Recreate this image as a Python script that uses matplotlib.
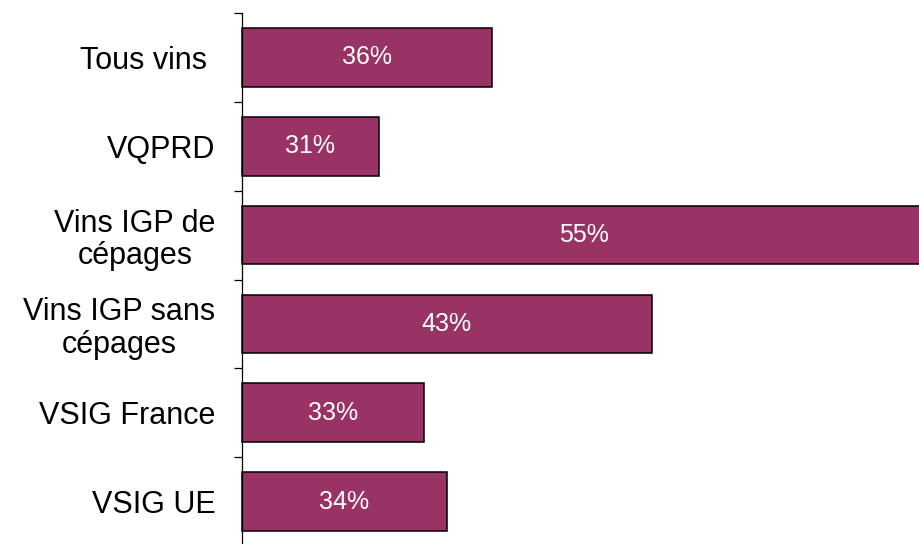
import matplotlib
matplotlib.use("Agg")
import matplotlib.pyplot as plt
import numpy as np

categories = ["Tous vins ", "VQPRD", "Vins IGP de\ncépages", "Vins IGP sans\ncépages", "VSIG France", "VSIG UE"]
values = [36, 31, 55, 43, 33, 34]
value_labels = ["36%", "31%", "55%", "43%", "33%", "34%"]

plt.rcParams['font.family'] = ['Liberation Sans', 'DejaVu Sans']

W, H = 920, 544
fig = plt.figure(figsize=(W / 100, H / 100), dpi=100)
ax = fig.add_axes([242 / W, -2 / H, (W - 242) / W + 0.0005, 533 / H])

x0 = 25
y = np.arange(len(categories))
ax.barh(y, np.array(values) - x0, left=x0, height=0.66, color="#993366",
        edgecolor="black", linewidth=1.1, zorder=2, clip_on=False)
for yi, v, lab in zip(y, values, value_labels):
    ax.text((x0 + v) / 2, yi, lab, ha="center", va="center", color="white", fontsize=18)

ax.set_xlim(x0, 54.8)
ax.set_ylim(len(categories) - 0.5, -0.5)
ax.set_yticks(y)
ax.set_yticklabels(categories, fontsize=22, multialignment="center", linespacing=1.12)
ax.tick_params(axis="y", which="major", length=0, pad=19)
ax.set_yticks(np.arange(-0.5, len(categories) + 0.5, 1), minor=True)
ax.tick_params(axis="y", which="minor", length=6, width=0.9, direction="out")
ax.set_xticks([])
for s in ["top", "right", "bottom"]:
    ax.spines[s].set_visible(False)
ax.spines["left"].set_linewidth(0.9)

fig.savefig("out.png", dpi=100)
